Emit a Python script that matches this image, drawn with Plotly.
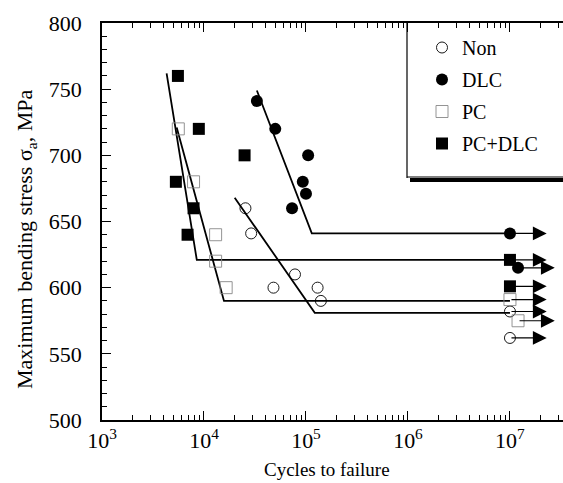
import numpy as np
import plotly.graph_objects as go

# ---------------- data ----------------
series = ["Non", "DLC", "PC", "PC+DLC"]

# failures (cycles, stress MPa)
non_x = [2.55e4, 2.9e4, 4.8e4, 7.8e4, 1.3e5, 1.4e5]
non_y = [660, 641, 600, 610, 600, 590]
dlc_x = [3.3e4, 5.0e4, 7.3e4, 9.3e4, 1.0e5, 1.05e5]
dlc_y = [741, 720, 660, 680, 671, 700]
pc_x = [5.6e3, 7.9e3, 1.3e4, 1.3e4, 1.65e4]
pc_y = [720, 680, 640, 620, 600]
pcdlc_x = [5.55e3, 8.9e3, 2.5e4, 5.3e3, 7.9e3, 6.9e3]
pcdlc_y = [760, 720, 700, 680, 660, 640]

# run-outs (no failure)
non_run_x = [1.0e7, 1.0e7]
non_run_y = [582, 562]
dlc_run_x = [1.0e7, 1.2e7]
dlc_run_y = [641, 615]
pc_run_x = [1.0e7, 1.2e7]
pc_run_y = [591, 575]
pcdlc_run_x = [1.0e7, 1.0e7]
pcdlc_run_y = [621, 601]

# fitted S-N lines
non_fit_x = [2.0e4, 1.22e5, 1.0e7]
non_fit_y = [668, 581, 581]
dlc_fit_x = [3.3e4, 1.14e5, 1.0e7]
dlc_fit_y = [749, 641, 641]
pc_fit_x = [5.4e3, 1.57e4, 1.0e7]
pc_fit_y = [721, 590, 590]
pcdlc_fit_x = [4.3e3, 8.5e3, 1.0e7]
pcdlc_fit_y = [762, 621, 621]

x_tickvals = [1e3, 1e4, 1e5, 1e6, 1e7]
x_ticktext = ["10<sup>3</sup>", "10<sup>4</sup>", "10<sup>5</sup>", "10<sup>6</sup>", "10<sup>7</sup>"]

FONT = "Liberation Serif"
W, H = 563, 483
L, R, T, B = 102, 0, 23, 63

fig = go.Figure()

fits = [(non_fit_x, non_fit_y), (dlc_fit_x, dlc_fit_y), (pc_fit_x, pc_fit_y), (pcdlc_fit_x, pcdlc_fit_y)]
for fx, fy in fits:
    fig.add_trace(go.Scatter(x=fx, y=fy, mode="lines", line=dict(color="black", width=1.8),
                             showlegend=False, hoverinfo="skip"))

styles = {
    "Non": dict(symbol="circle-open", size=11, color="black", line=dict(width=0.9, color="#555")),
    "DLC": dict(symbol="circle", size=12, color="black"),
    "PC": dict(symbol="square-open", size=12, color="#888", line=dict(width=0.9, color="#888")),
    "PC+DLC": dict(symbol="square", size=12, color="black"),
}
pts = {
    "Non": (non_x + non_run_x, non_y + non_run_y),
    "DLC": (dlc_x + dlc_run_x, dlc_y + dlc_run_y),
    "PC": (pc_x + pc_run_x, pc_y + pc_run_y),
    "PC+DLC": (pcdlc_x + pcdlc_run_x, pcdlc_y + pcdlc_run_y),
}
for s in series:
    x, y = pts[s]
    fig.add_trace(go.Scatter(x=x, y=y, mode="markers", name=s, marker=styles[s],
                             legendgroup=s))

# run-out arrows
runs = list(zip(non_run_x, non_run_y)) + list(zip(dlc_run_x, dlc_run_y)) + \
       list(zip(pc_run_x, pc_run_y)) + list(zip(pcdlc_run_x, pcdlc_run_y))
for rx, ry in runs:
    fig.add_annotation(x=np.log10(rx) + 0.36, y=ry, ax=np.log10(rx), ay=ry,
                       xref="x", yref="y", axref="x", ayref="y", text="",
                       showarrow=True, arrowhead=2, arrowsize=2.3, arrowwidth=1.2,
                       arrowcolor="black", standoff=0, startstandoff=0)

def px2paper_x(p):
    return (p - L) / (W - L - R)

def py2paper_y(p):
    return 1 - (p - T) / (H - T - B)

# legend box and shadow
fig.add_shape(type="line", xref="paper", yref="paper",
              x0=px2paper_x(407), x1=px2paper_x(407), y0=py2paper_y(23), y1=py2paper_y(178),
              line=dict(color="black", width=1.2))
fig.add_shape(type="line", xref="paper", yref="paper",
              x0=px2paper_x(407), x1=px2paper_x(570), y0=py2paper_y(177), y1=py2paper_y(177),
              line=dict(color="black", width=1.2))
fig.add_shape(type="line", xref="paper", yref="paper",
              x0=px2paper_x(410), x1=px2paper_x(570), y0=py2paper_y(180), y1=py2paper_y(180),
              line=dict(color="black", width=4))

# axis titles
fig.add_annotation(text="Cycles to failure", xref="paper", yref="paper",
                   x=px2paper_x(327), y=py2paper_y(469), xanchor="center", yanchor="middle",
                   showarrow=False, font=dict(size=19, family=FONT))
fig.add_annotation(text="Maximum bending stress σ<sub>a</sub>, MPa", xref="paper", yref="paper",
                   x=px2paper_x(26), y=py2paper_y(240), xanchor="center", yanchor="middle",
                   textangle=-90, showarrow=False, font=dict(size=22, family=FONT))

fig.update_layout(
    width=W, height=H,
    margin=dict(l=L, r=R, t=T, b=B, autoexpand=False),
    paper_bgcolor="white", plot_bgcolor="white",
    font=dict(family=FONT, color="black", size=18),
    legend=dict(x=px2paper_x(422), y=py2paper_y(28), xanchor="left", yanchor="top",
                bgcolor="rgba(0,0,0,0)", borderwidth=0, font=dict(size=20, family=FONT),
                tracegroupgap=3, itemwidth=30),
    xaxis=dict(type="log", range=[3, 7.52], tickvals=x_tickvals, ticktext=x_ticktext,
               ticks="inside", ticklen=9, tickwidth=1.2, tickcolor="black",
               showline=True, linecolor="black", linewidth=1.6, mirror="ticks",
               showgrid=False, zeroline=False, automargin=False,
               tickfont=dict(size=22, family=FONT),
               minor=dict(ticks="inside", ticklen=5, tickwidth=1, tickcolor="black",
                          tickvals=[m * 10 ** e for e in range(3, 8) for m in range(2, 10)],
                          showgrid=False)),
    yaxis=dict(range=[500, 800], dtick=50, tick0=500,
               ticks="inside", ticklen=9, tickwidth=1.2, tickcolor="black",
               showline=True, linecolor="black", linewidth=1.6, mirror=False,
               showgrid=False, zeroline=False, ticklabelstandoff=14, automargin=False,
               tickfont=dict(size=22, family=FONT),
               minor=dict(ticks="inside", ticklen=5, tickwidth=1, tickcolor="black", dtick=10,
                          showgrid=False)),
)

fig.write_html("out.html", config={"displayModeBar": False},
               post_script="document.body.style.margin='0';document.body.style.overflow='hidden';")
